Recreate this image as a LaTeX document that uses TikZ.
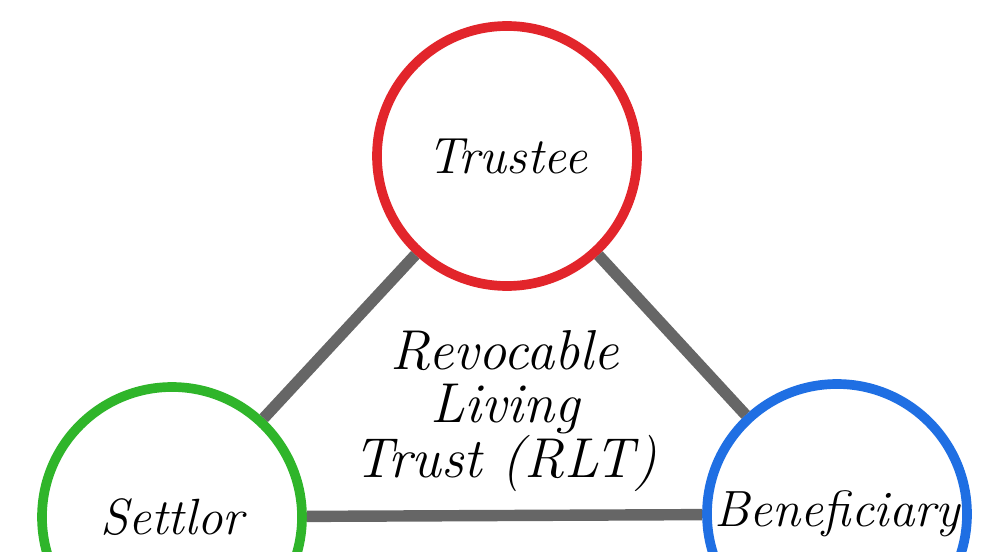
\documentclass[tikz,border=0pt]{standalone}
\definecolor{trusteered}{HTML}{E2252B}
\definecolor{settlorgreen}{HTML}{2FB52A}
\definecolor{benefblue}{HTML}{1F6FE3}
\definecolor{linkgray}{HTML}{666666}
\begin{document}
\begin{tikzpicture}[role/.style = {circle, line width = 5.5pt, fill = white, minimum size = 5.2cm, inner sep = 0pt, font = \fontsize{29}{32}\selectfont\itshape},
				link/.style = {linkgray, line width = 6.5pt}]
				\useasboundingbox (0,0) rectangle (20.1,11.02);
				\clip (0,0) rectangle (20.1,11.02);
				\node [role, draw = trusteered] (trustee) at(10.14,7.9) {Trustee};
				\node [role, draw = settlorgreen] (settlor) at(3.44,0.68) {Settlor};
				\node [role, draw = benefblue] (beneficiary) at(16.74,0.74) {Beneficiary};
				%
				\draw [link] (trustee) -- (settlor);
				\draw [link] (trustee) -- (beneficiary);
				\draw [link] (settlor) -- (beneficiary);
				%
				\node [align = center, font = \fontsize{32}{30}\selectfont\itshape] (rlt) at(10.1,2.8) {Revocable\\ Living\\ Trust (RLT)};
			\end{tikzpicture}
\end{document}
